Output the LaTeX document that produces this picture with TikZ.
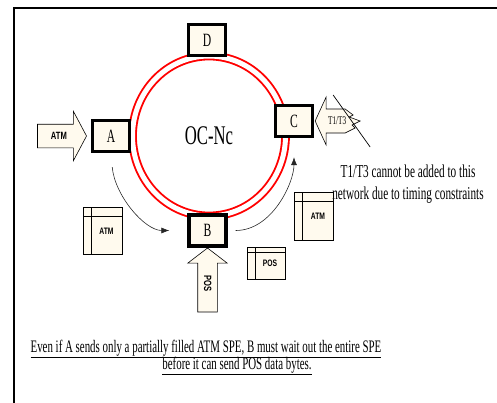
\documentclass[tikz,border=0pt]{standalone}
\usepackage{fontspec}
\setmainfont{Liberation Serif}
\newfontfamily\narrowserif[FakeStretch=0.62]{Liberation Serif}
\newfontfamily\narrowsans[FakeStretch=0.72]{Liberation Sans}
\usetikzlibrary{shapes.geometric, shapes.arrows, arrows.meta, positioning}
\definecolor{cream}{HTML}{FFFAEE}
\tikzstyle{station} = [rectangle, minimum width=1.11cm, minimum height=0.93cm, text centered, draw=black, line width=2.8pt, fill=cream, font=\narrowserif\fontsize{16}{16}\selectfont]
\tikzstyle{feed} = [single arrow, draw=black, fill=cream, line width=0.5pt, text height=0.2cm, text depth=0cm, inner xsep=0.1cm, font=\narrowsans\bfseries\fontsize{9}{9}\selectfont]
\tikzstyle{line} = [draw, black!85, line width=0.5pt, -{Latex[length=2.4mm, width=1.8mm]}]
\tikzstyle{note} = [text centered, align=center, inner sep=0pt, font=\narrowserif\fontsize{15.5}{18.7}\selectfont]
\tikzstyle{remark} = [inner sep=0pt, font=\narrowserif\fontsize{15}{15}\selectfont]
\tikzset{tablecell/.style={rectangle, draw=black, line width=0.5pt, fill=cream, inner sep=0pt, font=\narrowsans\bfseries\fontsize{8}{8}\selectfont, path picture={
    \draw ([yshift=-#1]path picture bounding box.north west) -- ([yshift=-#1]path picture bounding box.north east);
    \draw ([xshift=0.24cm]path picture bounding box.north west) -- ([xshift=0.24cm]path picture bounding box.south west);
}}, tablecell/.default=0.27cm}
\newcommand{\celltext}[2]{\raisebox{-#2}{\hspace*{0.24cm}#1}}

\begin{document}
\begin{tikzpicture}[node distance=2cm]
\useasboundingbox (0,0) rectangle (14.91,-12.09);

% Frame
\draw [line width=1.2pt] (0.42,-12.09) -- (0.42,-0.24) -- (14.91,-0.24);

% Ring
\node (ring) [ellipse, draw=red, double=white, double distance=0.15cm, line width=1.6pt, minimum width=4.59cm, minimum height=4.8cm, inner sep=0pt, font=\narrowserif\fontsize{23}{23}\selectfont] at (6.27,-4.08) {OC-Nc};

% Stations
\node (D) [station, above of=ring, yshift=0.88cm, xshift=-0.06cm] {D};
\node (A) [station, left of=ring, xshift=-0.94cm] {A};
\node (C) [station, right of=ring, xshift=0.55cm, yshift=0.45cm] {C};
\node (B) [station, below of=ring, yshift=-0.835cm, xshift=-0.045cm] {B};

% Feeds
\node (atmfeed) [feed, minimum height=1.47cm, inner ysep=0.245cm, single arrow head extend=0.39cm, single arrow tip angle=124, anchor=tip] at ([xshift=-0.12cm]A.west) {ATM};
\node (posfeed) [feed, shape border rotate=180, minimum height=1.92cm, inner ysep=0.185cm, single arrow head extend=0.3cm, single arrow tip angle=105, anchor=tip, rotate=-90] at (B.south) {POS};
\begin{scope}[shift={([xshift=0.03cm]C.east)}]
\draw [fill=cream, line width=0.5pt] (0,0) -- (0.33,0.72) -- (0.33,0.36) -- (0.9,0.36) -- (1.14,0.18) -- (1.02,0.12) -- (1.35,0) -- (1.11,-0.12) -- (1.2,-0.21) -- (0.9,-0.36) -- (0.33,-0.36) -- (0.33,-0.72) -- cycle;
\node (tfeed) [inner sep=0pt, font=\narrowserif\fontsize{10}{10}\selectfont] at (0.66,0) {T1/T3};
\draw [line width=0.6pt] (0.54,0.78) -- (1.65,-0.78);
\end{scope}

% Cells
\node (atmcellA) [tablecell, below of=A, yshift=-0.85cm, xshift=-0.255cm, minimum width=1.16cm, minimum height=1.4cm] {\celltext{ATM}{0.13cm}};
\node (atmcellC) [tablecell, below of=C, yshift=-0.85cm, xshift=0.6cm, minimum width=1.16cm, minimum height=1.43cm] {\celltext{ATM}{0.1cm}};
\node (poscell) [tablecell=0.15cm, right of=B, xshift=-0.245cm, yshift=-0.975cm, minimum width=1.13cm, minimum height=0.95cm] {\celltext{POS}{0.05cm}};

% Connections
\draw [line, shorten <=0.42cm, shorten >=0.54cm] (A.south) to[out=-85, in=180] (B.west);
\draw [line, shorten <=0.24cm, shorten >=0.57cm] (B.east) to[out=0, in=-90] (C.south);

% Notes
\node (limit) [note, right of=C, xshift=1.42cm, yshift=-1.89cm] {T1/T3 cannot be added to this\\network due to timing constraints};
\node (remarkA) [remark, below of=B, yshift=-1.555cm, xshift=-0.045cm] {\underline{Even if A sends only a partially filled ATM SPE, B must wait out the entire SPE}};
\node (remarkB) [remark, below of=B, yshift=-2.065cm, xshift=0.885cm] {\underline{before it can send POS data bytes.}};

\end{tikzpicture}
\end{document}
